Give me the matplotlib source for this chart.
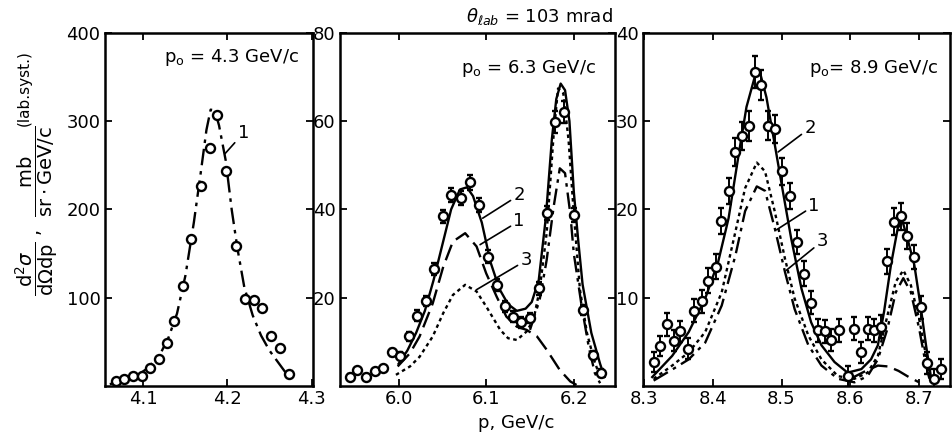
import matplotlib
matplotlib.use("Agg")
import matplotlib.pyplot as plt

plt.rcParams['font.family'] = ['Liberation Sans Narrow', 'DejaVu Sans']
plt.rcParams['mathtext.fontset'] = 'dejavusans'

# ---- panel 1: p0 = 4.3 GeV/c
p1_x = [4.067, 4.077, 4.088, 4.098, 4.108, 4.118, 4.128, 4.136, 4.147, 4.157,
        4.168, 4.179, 4.188, 4.198, 4.210, 4.221, 4.231, 4.241, 4.252, 4.263, 4.273]
p1_y = [6, 8, 11, 11, 20, 31, 49, 74, 113, 166, 227, 269, 307, 244, 159, 99, 97, 88, 56, 43, 14]
p1_c1_x = [4.060, 4.075, 4.090, 4.105, 4.120, 4.130, 4.140, 4.150, 4.160, 4.168, 4.175,
           4.180, 4.185, 4.190, 4.198, 4.205, 4.212, 4.220, 4.230, 4.240, 4.250, 4.260,
           4.270, 4.278]
p1_c1_y = [2, 5, 10, 20, 36, 55, 82, 125, 185, 240, 290, 313, 312, 295, 255, 200, 155,
           112, 80, 57, 40, 27, 14, 8]

# ---- panel 2: p0 = 6.3 GeV/c
p2_x = [5.944, 5.953, 5.963, 5.973, 5.982, 5.993, 6.002, 6.012, 6.021, 6.031, 6.041,
        6.051, 6.060, 6.071, 6.081, 6.092, 6.102, 6.112, 6.121, 6.131, 6.140, 6.150,
        6.160, 6.169, 6.179, 6.189, 6.200, 6.210, 6.222, 6.231]
p2_y = [2.1, 3.5, 2.0, 3.3, 4.0, 7.6, 6.8, 11.2, 15.9, 19.2, 26.5, 38.4, 43.3, 42.6,
        46.1, 41.0, 29.3, 22.8, 18.0, 15.7, 14.4, 15.4, 22.1, 39.1, 59.9, 62.1, 38.7,
        17.2, 7.0, 2.9]
p2_err = [0.6, 0.6, 0.6, 0.6, 0.6, 0.8, 0.8, 1.0, 1.2, 1.2, 1.4, 1.5, 1.6, 1.6,
          1.8, 1.6, 1.5, 1.4, 1.3, 1.2, 1.2, 1.2, 1.4, 1.6, 2.5, 2.5, 1.6, 1.2, 1.0, 1.0]
p2_c2_x = [6.000, 6.010, 6.020, 6.030, 6.040, 6.050, 6.060, 6.070, 6.078, 6.085, 6.095,
           6.105, 6.115, 6.125, 6.135, 6.145, 6.152, 6.160, 6.168, 6.175, 6.180, 6.185,
           6.190, 6.195, 6.200, 6.205, 6.210, 6.220, 6.230, 6.235]
p2_c2_y = [5, 8, 12, 17, 24, 32, 40, 44.5, 45, 43, 37, 28, 22, 18.5, 17, 17.5, 19, 24,
           38, 56, 65, 68.5, 67, 60, 44, 33, 23, 12, 5, 2]
p2_c1_x = [5.999, 6.013, 6.024, 6.039, 6.051, 6.062, 6.076, 6.089, 6.100, 6.112, 6.123,
           6.135, 6.146, 6.158, 6.169, 6.184, 6.196, 6.205]
p2_c1_y = [4.4, 7.4, 11.2, 18.7, 27.0, 32.7, 34.6, 31.6, 25.5, 20.2, 15.7, 13.4, 12.7,
           11.2, 8.2, 3.6, 1.0, 0.0]
p2_c1b_x = [6.150, 6.161, 6.169, 6.177, 6.184, 6.190, 6.196, 6.200, 6.209, 6.217, 6.224, 6.230]
p2_c1b_y = [12.7, 19.5, 28.5, 40.6, 49.3, 48.2, 39.0, 30.0, 18.0, 8.9, 2.9, 0.6]
p2_c3_x = [5.997, 6.013, 6.024, 6.039, 6.051, 6.062, 6.076, 6.089, 6.100, 6.116, 6.125,
           6.135, 6.146, 6.154, 6.161, 6.169, 6.177, 6.182, 6.188, 6.194, 6.200, 6.207,
           6.215, 6.223, 6.230]
p2_c3_y = [2.5, 4.4, 6.6, 11.2, 16.5, 20.6, 22.9, 21.4, 18.0, 12.7, 10.8, 10.4, 12.3,
           15.0, 21.8, 34.6, 57.0, 67.4, 66.3, 55.7, 39.0, 21.8, 12.0, 5.9, 2.0]

# ---- panel 3: p0 = 8.9 GeV/c
p3_x = [8.314, 8.324, 8.333, 8.343, 8.353, 8.364, 8.372, 8.384, 8.393, 8.404, 8.412,
        8.423, 8.433, 8.442, 8.452, 8.461, 8.470, 8.481, 8.491, 8.501, 8.512, 8.522,
        8.533, 8.543, 8.553, 8.563, 8.572, 8.584, 8.596, 8.606, 8.616, 8.625, 8.635,
        8.644, 8.653, 8.663, 8.674, 8.682, 8.693, 8.702, 8.712, 8.722, 8.732]
p3_y = [2.7, 4.5, 7.0, 5.1, 6.2, 4.2, 8.5, 9.6, 11.9, 13.5, 18.7, 22.1, 26.5, 28.3,
        29.5, 35.6, 34.1, 29.5, 29.1, 24.3, 21.5, 16.3, 12.7, 9.4, 6.3, 6.2, 5.2, 6.3,
        1.1, 6.5, 3.8, 6.5, 6.3, 6.7, 14.1, 18.6, 19.2, 17.0, 14.6, 8.9, 2.6, 0.8, 1.9]
p3_err = [1.1, 1.1, 1.3, 1.2, 1.2, 1.2, 1.3, 1.3, 1.4, 1.4, 1.5, 1.5, 1.6, 1.6, 1.7,
          1.8, 1.7, 1.6, 1.6, 1.5, 1.5, 1.4, 1.4, 1.3, 1.3, 1.3, 1.3, 1.3, 1.2, 1.3,
          1.2, 1.3, 1.3, 1.3, 1.4, 1.5, 1.5, 1.5, 1.4, 1.3, 1.2, 1.1, 1.1]
p3_c2_x = [8.312, 8.341, 8.365, 8.389, 8.408, 8.423, 8.437, 8.449, 8.461, 8.469, 8.478,
           8.490, 8.502, 8.514, 8.529, 8.543, 8.558, 8.577, 8.596, 8.616, 8.630, 8.640,
           8.649, 8.659, 8.669, 8.676, 8.683, 8.693, 8.702, 8.710, 8.717]
p3_c2_y = [1.0, 3.4, 6.1, 9.9, 14.1, 19.0, 25.9, 31.6, 35.0, 35.4, 32.7, 27.4, 22.0,
           16.7, 11.0, 7.2, 4.6, 2.7, 1.5, 1.9, 3.0, 4.6, 8.4, 13.7, 17.9, 18.6, 16.7,
           13.7, 9.1, 4.6, 1.1]
p3_c3_x = [8.314, 8.341, 8.365, 8.389, 8.413, 8.433, 8.447, 8.464, 8.476, 8.490, 8.505,
           8.519, 8.539, 8.558, 8.582, 8.606, 8.625, 8.640, 8.654, 8.666, 8.677, 8.688,
           8.700, 8.710, 8.717]
p3_c3_y = [0.8, 2.3, 3.8, 6.1, 10.6, 17.5, 22.4, 25.3, 24.3, 19.8, 14.4, 9.9, 5.7, 3.0,
           1.1, 0.8, 1.5, 3.4, 8.0, 11.8, 13.1, 11.4, 7.6, 3.4, 0.4]
p3_c1_x = [8.314, 8.340, 8.365, 8.389, 8.413, 8.433, 8.447, 8.464, 8.476, 8.490, 8.505,
           8.519, 8.539, 8.558, 8.582, 8.606, 8.625, 8.640, 8.654, 8.666, 8.677, 8.688,
           8.700, 8.710, 8.717]
p3_c1_y = [0.6, 1.8, 3.0, 4.9, 9.1, 14.8, 19.8, 22.6, 22.1, 17.9, 12.9, 8.7, 4.6, 2.3,
           0.8, 0.4, 1.1, 3.0, 6.5, 10.6, 12.2, 10.6, 6.5, 2.3, 0.2]
p3_tail_x = [8.600, 8.620, 8.640, 8.655, 8.670, 8.685, 8.700]
p3_tail_y = [0.8, 1.6, 2.3, 2.2, 1.7, 1.0, 0.4]

DASHDOT = (0, (7, 2.5, 1.5, 2.5))
DASHED = (0, (7, 3))
DOTTED = (0, (1.5, 1.5))
LW = 1.7
FS = 13

fig = plt.figure(figsize=(9.52, 4.38), dpi=100)
ax1 = fig.add_axes([0.110, 0.119, 0.219, 0.806])
ax2 = fig.add_axes([0.357, 0.119, 0.289, 0.806])
ax3 = fig.add_axes([0.675, 0.119, 0.323, 0.806])


def style(ax, xlim, ylim, xt, yt):
    ax.set_xlim(*xlim)
    ax.set_ylim(*ylim)
    ax.set_xticks(xt)
    ax.set_yticks(yt)
    ax.tick_params(direction="in", length=5, width=1.3, labelsize=FS, pad=3,
                   top=True, right=True)
    for s in ax.spines.values():
        s.set_linewidth(1.8)


def points(ax, x, y, err=None):
    ax.errorbar(x, y, yerr=err, fmt="o", ms=6.5, mfc="white", mec="black", mew=1.7,
                ecolor="black", elinewidth=1.4, capsize=2.5, capthick=1.3, zorder=4)


def leader(ax, label, start, end):
    ax.annotate(label, xy=start, xytext=end, fontsize=FS, ha="left", va="bottom",
                arrowprops=dict(arrowstyle="-", lw=1.2, color="black",
                                shrinkA=0, shrinkB=0))


# panel 1
style(ax1, (4.054, 4.302), (0, 400), [4.1, 4.2, 4.3], [100, 200, 300, 400])
ax1.plot(p1_c1_x, p1_c1_y, color="black", lw=LW, ls=DASHDOT)
points(ax1, p1_x, p1_y)
leader(ax1, "1", (4.197, 263), (4.212, 276))
ax1.text(0.93, 0.93, r"p$_\mathregular{o}$ = 4.3 GeV/c", transform=ax1.transAxes,
         ha="right", va="center", fontsize=FS)

# panel 2
style(ax2, (5.933, 6.247), (0, 80), [6.0, 6.1, 6.2], [20, 40, 60, 80])
ax2.plot(p2_c2_x, p2_c2_y, color="black", lw=LW, ls="-")
ax2.plot(p2_c1_x, p2_c1_y, color="black", lw=LW, ls=DASHED)
ax2.plot(p2_c1b_x, p2_c1b_y, color="black", lw=LW, ls=DASHDOT)
ax2.plot(p2_c3_x, p2_c3_y, color="black", lw=LW, ls=DOTTED)
points(ax2, p2_x, p2_y, p2_err)
leader(ax2, "2", (6.096, 38), (6.131, 41.2))
leader(ax2, "1", (6.093, 32), (6.131, 35.3))
leader(ax2, "3", (6.089, 21.8), (6.139, 26.4))
ax2.text(0.93, 0.90, r"p$_\mathregular{o}$ = 6.3 GeV/c", transform=ax2.transAxes,
         ha="right", va="center", fontsize=FS)

# panel 3
style(ax3, (8.298, 8.745), (0, 40), [8.3, 8.4, 8.5, 8.6, 8.7], [10, 20, 30, 40])
ax3.plot(p3_c2_x, p3_c2_y, color="black", lw=LW, ls="-")
ax3.plot(p3_c3_x, p3_c3_y, color="black", lw=LW, ls=DOTTED)
ax3.plot(p3_c1_x, p3_c1_y, color="black", lw=LW, ls=DASHDOT)
ax3.plot(p3_tail_x, p3_tail_y, color="black", lw=LW, ls=DASHED)
points(ax3, p3_x, p3_y, p3_err)
leader(ax3, "2", (8.495, 26.5), (8.533, 28.2))
leader(ax3, "1", (8.493, 17.7), (8.539, 19.4))
leader(ax3, "3", (8.507, 13.1), (8.551, 15.4))
ax3.text(0.96, 0.90, r"p$_\mathregular{o}$= 8.9 GeV/c", transform=ax3.transAxes,
         ha="right", va="center", fontsize=FS)

fig.text(0.567, 0.962, r"$\theta_{\ell ab}$ = 103 mrad", ha="center", va="center",
         fontsize=FS)
fig.text(0.542, 0.035, "p, GeV/c", ha="center", va="center", fontsize=FS)
fig.text(0.038, 0.52,
         r"$\dfrac{\mathrm{d}^2\sigma}{\mathrm{d}\Omega \mathrm{dp}}$ ,  "
         r"$\dfrac{\mathrm{mb}}{\mathrm{sr\cdot GeV/c}}$",
         rotation=90, ha="center", va="center", fontsize=14)
fig.text(0.025, 0.80, "(lab.syst.)", rotation=90, ha="center", va="center",
         fontsize=11)

fig.savefig("out.png", dpi=100, facecolor="white")
